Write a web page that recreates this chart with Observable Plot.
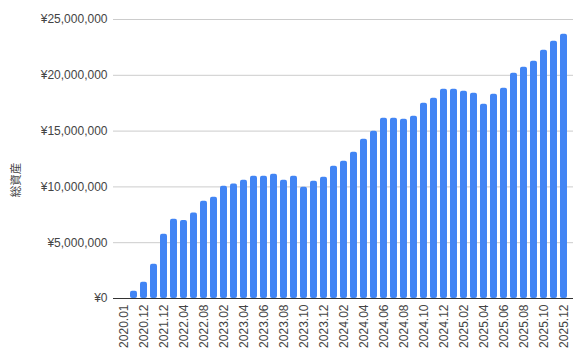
<!DOCTYPE html>
<html>
<head>
<meta charset="utf-8">
<script src="https://cdn.jsdelivr.net/npm/d3@7"></script>
<script src="https://cdn.jsdelivr.net/npm/@observablehq/plot@0.6"></script>
<style>
  html, body { margin: 0; padding: 0; background: #fff; }
  #chart { width: 586px; height: 358px; }
</style>
</head>
<body>
<div id="chart"></div>
<script>
const months = [
  "2020.01","2020.06","2020.12","2021.06","2021.12","2022.02","2022.04","2022.06","2022.08","2022.12",
  "2023.02","2023.03","2023.04","2023.05","2023.06","2023.07","2023.08","2023.09","2023.10","2023.11",
  "2023.12","2024.01","2024.02","2024.03","2024.04","2024.05","2024.06","2024.07","2024.08","2024.09",
  "2024.10","2024.11","2024.12","2025.01","2025.02","2025.03","2025.04","2025.05","2025.06","2025.07",
  "2025.08","2025.09","2025.10","2025.11","2025.12"
];
const totalAssets = [
  0, 650000, 1460000, 3070000, 5760000, 7100000, 7000000, 7670000, 8720000, 9080000,
  10060000, 10270000, 10600000, 10960000, 10960000, 11140000, 10600000, 10960000, 9970000, 10500000,
  10870000, 11860000, 12300000, 13100000, 14270000, 14990000, 16160000, 16160000, 16070000, 16330000,
  17500000, 17950000, 18750000, 18750000, 18580000, 18400000, 17410000, 18300000, 18840000, 20190000,
  20730000, 21260000, 22250000, 23060000, 23680000
];
const yTicks = [0, 5000000, 10000000, 15000000, 20000000, 25000000];
const yTitle = "総資産";

const data = months.map((m, i) => ({month: m, value: totalAssets[i]}));
const xTicks = months.filter((m, i) => i % 2 === 0);
const yen = d => "¥" + d3.format(",")(d);

const chart = Plot.plot({
  width: 586,
  height: 358,
  marginLeft: 113,
  marginRight: 13,
  marginTop: 19,
  marginBottom: 60,
  style: {fontFamily: "Arial, 'Liberation Sans', sans-serif", fontSize: "12px", color: "#444", background: "#fff"},
  x: {domain: months, padding: 0.3, label: null},
  y: {domain: [0, 25000000], label: null},
  marks: [
    Plot.gridY(yTicks, {stroke: "#cccccc", strokeOpacity: 1}),
    Plot.axisY({ticks: yTicks, tickFormat: yen, tickSize: 0, tickPadding: 6, label: null, fill: "#444"}),
    Plot.axisX({ticks: xTicks, tickSize: 0, tickPadding: 6, tickRotate: -90, label: null, fill: "#444"}),
    Plot.barY(data, {x: "month", y: "value", fill: "#4285f4", rx: 2}),
    Plot.ruleY([0], {stroke: "#333"}),
    Plot.text([yTitle], {frameAnchor: "left", textAnchor: "middle", dx: -97, dy: 21, rotate: -90, text: d => d,
      fill: "#444", fontSize: 11.5, fontFamily: "'Noto Sans CJK JP', sans-serif"})
  ]
});
document.getElementById("chart").appendChild(chart);
</script>
</body>
</html>
